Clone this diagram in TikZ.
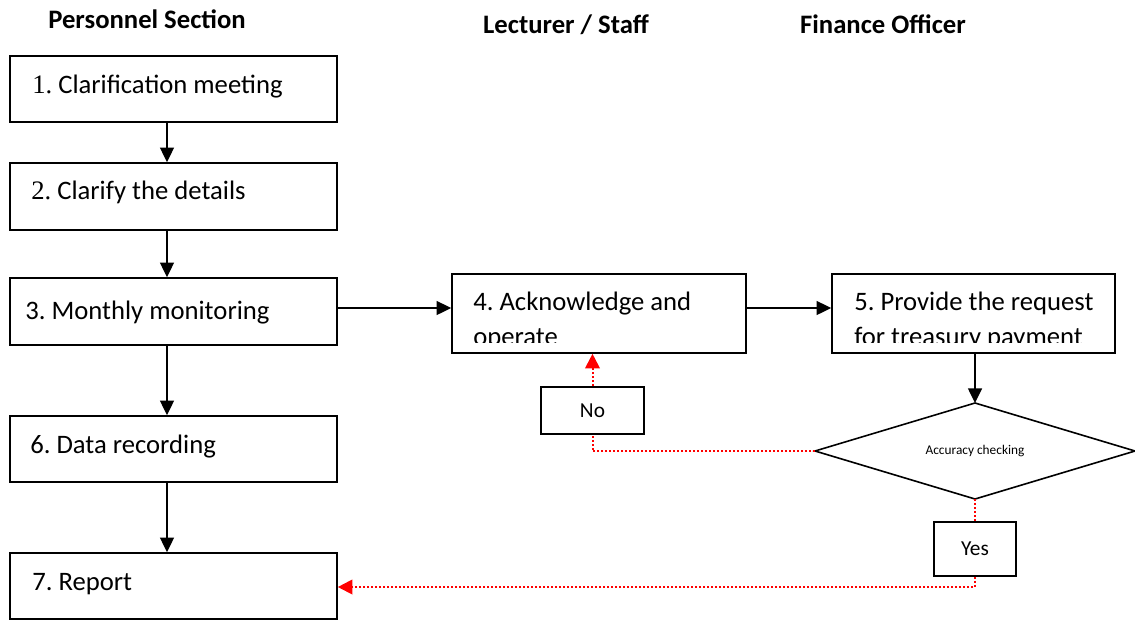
\documentclass[tikz,border=0pt]{standalone}
\usepackage{fontspec}
\setmainfont{Carlito}
\newfontfamily\numfont{Liberation Serif}
\usetikzlibrary{arrows.meta,shapes.geometric}
\frenchspacing

\begin{document}
\begin{tikzpicture}[x=0.75pt,y=-0.75pt,
  box/.style 2 args={draw, line width=1.2pt, rectangle, inner sep=0pt,
    minimum width=#1*0.75pt, minimum height=#2*0.75pt},
  txt/.style={anchor=base west, inner sep=0pt, font=\fontsize{20}{24}\selectfont},
  head/.style={anchor=base, inner sep=0pt, font=\fontsize{20}{24}\selectfont\bfseries},
  flow/.style={-{Triangle[length=11pt,width=10.5pt]}, line width=1.1pt},
  redline/.style={red, line width=1.5pt, dash pattern=on 1.5pt off 1.5pt},
  redflow/.style={redline, -{Triangle[length=11pt,width=11pt,sharp]}}]
  \clip (0,0) rectangle (1135,619);

  % Titles
  \node[head] (hp) at (147,28) {Personnel Section};
  \node[head] (hl) at (566,33) {Lecturer / Staff};
  \node[head] (hf) at (883,33) {Finance Officer};

  % Personnel column
  \node[box={327}{66}] (b1) at (173.5,89) {};
  \node[box={327}{67}] (b2) at (173.5,196.5) {};
  \node[box={327}{67}] (b3) at (173.5,311.5) {};
  \node[box={327}{66}] (b6) at (173.5,449) {};
  \node[box={327}{66}] (b7) at (173.5,586) {};
  \node[txt] (t1) at (32,93) {{\numfont 1.} Clarification meeting};
  \node[txt] (t2) at (31,199) {{\numfont 2.} Clarify the details};
  \node[txt] (t3) at (25,319) {3. Monthly monitoring};
  \node[txt] (t6) at (30,453) {6. Data recording};
  \node[txt] (t7) at (32,590) {7. Report};

  % Lecturer and finance boxes
  \node[box={294}{79}] (b4) at (599,313.5) {};
  \node[box={283}{79}] (b5) at (973.5,313.5) {};
  \begin{scope}
    \clip (452,274) rectangle (1115,342);
    \node[txt] (t4a) at (473,310) {4. Acknowledge and};
    \node[txt] (t4b) at (473,345) {operate};
    \node[txt] (t5a) at (854,310) {5. Provide the request};
    \node[txt] (t5b) at (854,345) {for treasury payment};
  \end{scope}

  % Decision
  \node[draw, diamond, aspect=3.33, line width=1.2pt, inner sep=0pt, outer sep=0pt,
    minimum width=320*0.75pt, minimum height=96*0.75pt,
    font=\fontsize{10}{12}\selectfont] (d) at (975,451) {Accuracy checking};
  \node[box={103}{47}, font=\fontsize{16}{19}\selectfont] (no) at (592.5,410.5) {No};
  \node[box={82}{54}, font=\fontsize{16}{19}\selectfont] (yes) at (975,549) {Yes};

  % Arrows
  \coordinate (ax) at (167,0);
  \coordinate (ay) at (0,308);
  \foreach \a/\b in {b1/b2, b2/b3, b3/b6, b6/b7}
    \draw[flow] (\a.south -| ax) -- (\b.north -| ax);
  \draw[flow] (b3.east |- ay) -- (b4.west |- ay);
  \draw[flow] (b4.east |- ay) -- (b5.west |- ay);
  \draw[flow] (b5.south -| d.north) -- (d.north);

  % Red dotted returns
  \draw[redline] (d.west) -| (no.south);
  \draw[redflow] (no.north) -- (no.north |- b4.south);
  \draw[redline] (d.south) -- (yes.north);
  \draw[redflow] (yes.south) |- ([yshift=-1*0.75pt]b7.east);
\end{tikzpicture}
\end{document}
